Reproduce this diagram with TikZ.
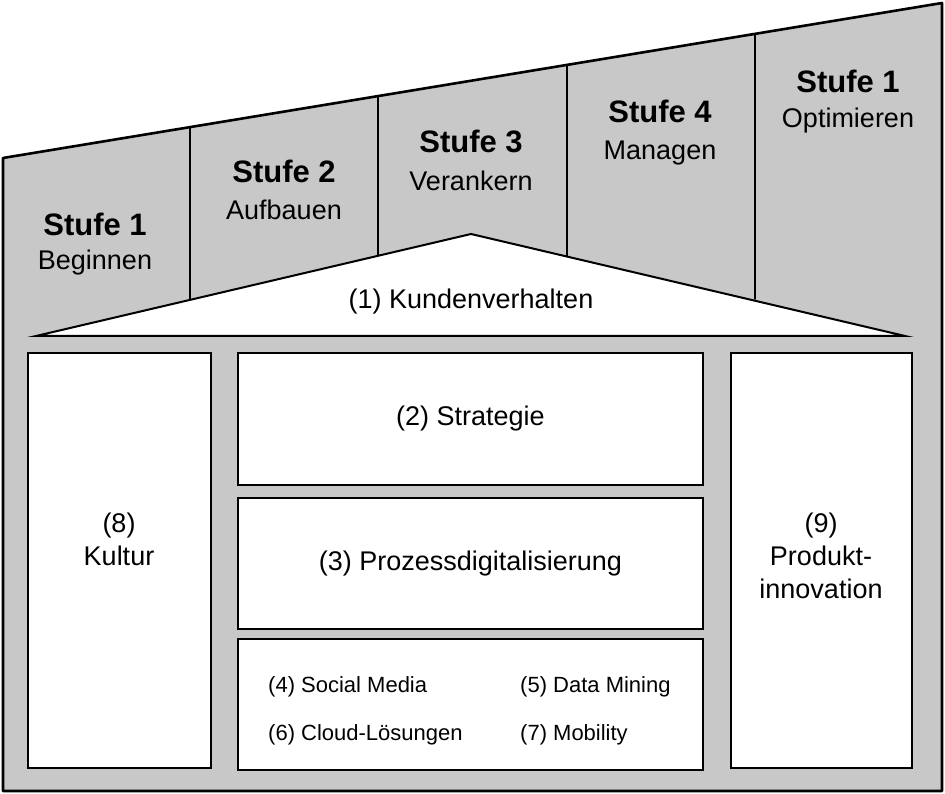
\documentclass[tikz,border=0pt]{standalone}
\usepackage{fontspec}
\setmainfont{Liberation Sans}
\usepackage{tikz}
\usetikzlibrary{calc}
\usepackage{tkz-euclide}

\definecolor{hausgrau}{RGB}{200,200,200}

\begin{document}
\begin{tikzpicture}[x=1pt,y=1pt,
        stufe/.style={font=\bfseries\fontsize{31}{35}\selectfont, inner sep=0pt, anchor=base},
        wort/.style={font=\fontsize{27}{31}\selectfont, inner sep=0pt, anchor=base},
        klein/.style={font=\fontsize{22}{26}\selectfont, inner sep=0pt, anchor=base west},
        kasten/.style={draw=black, fill=white, line width=2pt}]
        \useasboundingbox (0,0) rectangle (945,793);
        \tkzDefPoints{3/635/A,942/790/B,942/2/C,3/2/D}
        \tkzDefPoints{190/666/T1,378/697/T2,567/728/T3,755/759/T4}
        \tkzDefPoints{190/494/F1,378/537/F2,567/537/F3,755/494/F4}
        \tkzDefPoints{36/457/L,471/559/P,905/457/R}

        % Haus und Stufen
        \tkzDrawPolygon[fill=hausgrau, line width=2.6pt](A,B,C,D)
        \tkzDrawSegments[line width=1.8pt](T1,F1 T2,F2 T3,F3 T4,F4)
        \tkzDrawPolygon[fill=white, line width=2pt, line join=miter](L,P,R)

        \foreach \cx/\oy/\uy/\nr/\txt [count=\i] in {95/557/523/1/Beginnen, 284/610/573/2/Aufbauen,
                471/640/602/3/Verankern, 660/670/633/4/Managen, 848/700/665/1/Optimieren}{
                \node[stufe] (st\i) at (\cx,\oy) {Stufe \nr};
                \node[wort] (sw\i) at (\cx,\uy) {\txt};
        }
        \node[wort] (kunde) at (471,484) {(1) Kundenverhalten};

        % Saeulen
        \draw[kasten] (28,25) rectangle (211,440);
        \draw[kasten] (731,25) rectangle (912,440);
        \node[kasten, minimum width=465, minimum height=132, font=\fontsize{27}{31}\selectfont] (strat) at (470.5,374) {(2) Strategie};
        \node[kasten, minimum width=465, minimum height=131, font=\fontsize{27}{31}\selectfont] (prozess) at (470.5,229.5) {(3) Prozessdigitalisierung};
        \draw[kasten] (238,23) rectangle (703,154);

        \node[wort] (k8) at (119,260) {(8)};
        \node[wort] (kultur) at (119,227) {Kultur};
        \node[wort] (k9) at (821,260) {(9)};
        \node[wort] (prod) at (821,227) {Produkt-};
        \node[wort] (innov) at (821,194) {innovation};

        \node[klein] (social) at (268,101) {(4) Social Media};
        \node[klein] (mining) at (520,101) {(5) Data Mining};
        \node[klein] (cloud) at (268,53) {(6) Cloud-Lösungen};
        \node[klein] (mobil) at (520,53) {(7) Mobility};
\end{tikzpicture}
\end{document}
